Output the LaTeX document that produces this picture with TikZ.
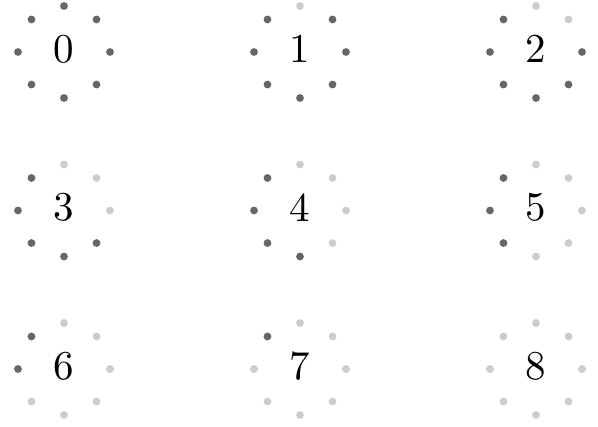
\documentclass[tikz,border=0pt]{standalone}
\usetikzlibrary{calc}
\begin{document}
\begin{tikzpicture}[x=0.5pt,y=-0.5pt,
    darkdot/.style={circle,fill=black!60,inner sep=0pt,minimum size=3.9pt},
    lightdot/.style={circle,fill=black!20,inner sep=0pt,minimum size=3.9pt},
    digit/.style={scale=2.05,inner sep=0pt}]
    \useasboundingbox (0,0) rectangle (598,427);
    % one frame per digit, dots turn light clockwise from the top
    \foreach \n in {0,...,8} {
        \pgfmathtruncatemacro{\col}{mod(\n,3)}
        \pgfmathtruncatemacro{\row}{div(\n,3)}
        \coordinate (c\n) at (64+236*\col, 52+158.5*\row);
        \node[digit] (d\n) at ([yshift=1.5pt]c\n) {\n};
        \foreach \k in {0,...,7} {
            \ifnum\k<\n \def\dotstyle{lightdot}\else\def\dotstyle{darkdot}\fi
            \node[\dotstyle] (p\n-\k) at ($(c\n)+({90-45*\k}:23pt)$) {};
        }
    }
\end{tikzpicture}
\end{document}
